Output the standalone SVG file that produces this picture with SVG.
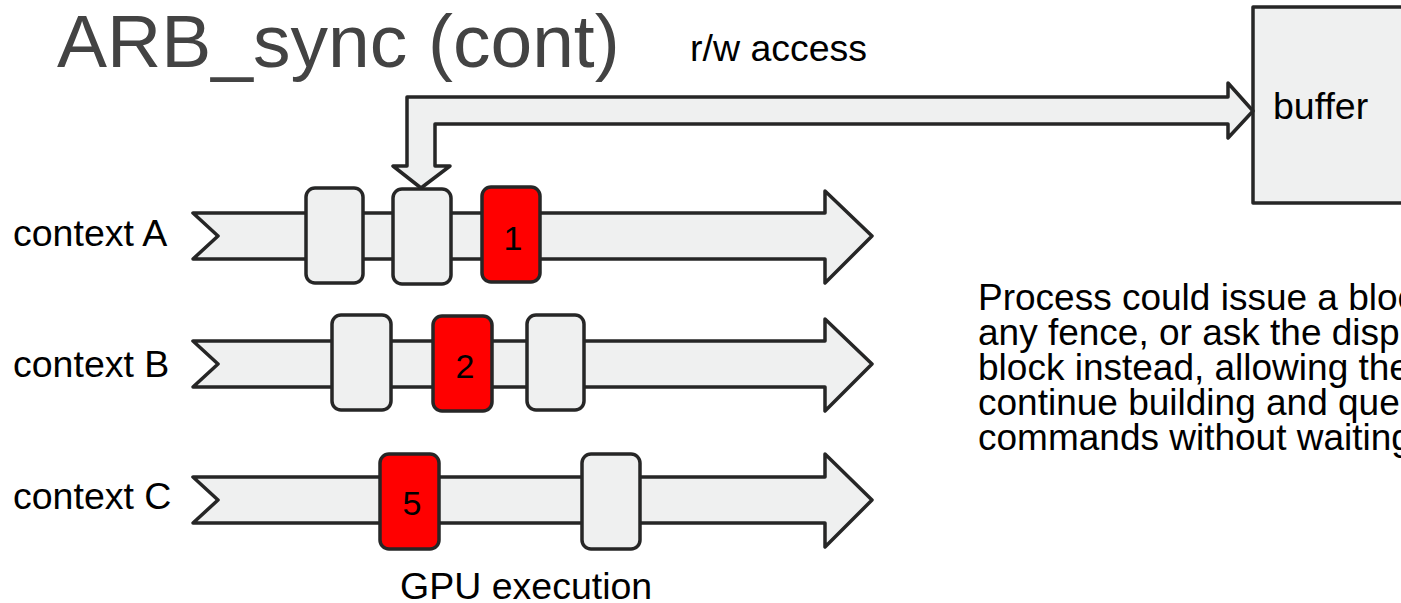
<svg xmlns="http://www.w3.org/2000/svg" width="1401" height="603" viewBox="0 0 1401 603">
  <style>
    .shape { fill: #eff0f0; stroke: #262626; stroke-width: 3.5; stroke-linejoin: round; }
    .fence { fill: #ff0000; stroke: #262626; stroke-width: 3.5; }
    .label { font-family: "Liberation Sans", Arial, sans-serif; font-size: 37.5px; fill: #000000; }
    .note { font-family: "Liberation Sans", Arial, sans-serif; font-size: 37px; fill: #000000; }
    .num { font-family: "Liberation Sans", Arial, sans-serif; font-size: 34px; fill: #000000; text-anchor: middle; }
    .title { font-family: "Liberation Sans", Arial, sans-serif; font-size: 75px; fill: #434343; }
  </style>

  <!-- heading -->
  <text class="title" x="57" y="67">ARB_sync (cont)</text>

  <!-- command streams of the three contexts -->
  <g id="context-a">
    <text class="label" x="13" y="246">context A</text>
    <polygon class="shape" points="193,213 825,213 825,191 872,236 825,283 825,259 193,259 218,236"/>
    <rect class="shape" x="306" y="188" width="57" height="95" rx="9"/>
    <rect class="shape" x="393" y="189" width="58" height="95" rx="9"/>
    <rect class="fence" x="482" y="187" width="58" height="95" rx="9"/>
    <text class="num" x="513" y="250">1</text>
  </g>

  <g id="context-b">
    <text class="label" x="13" y="377">context B</text>
    <polygon class="shape" points="193,341 825,341 825,319 872,364 825,411 825,387 193,387 218,364"/>
    <rect class="shape" x="332" y="315" width="59" height="95" rx="9"/>
    <rect class="fence" x="433" y="316" width="59" height="95" rx="9"/>
    <text class="num" x="465" y="378">2</text>
    <rect class="shape" x="527" y="315" width="57" height="95" rx="9"/>
  </g>

  <g id="context-c">
    <text class="label" x="13" y="509">context C</text>
    <polygon class="shape" points="193,477 825,477 825,454 872,500 825,547 825,523 193,523 218,500"/>
    <rect class="fence" x="380" y="454" width="59" height="95" rx="9"/>
    <text class="num" x="412" y="515">5</text>
    <rect class="shape" x="582" y="454" width="58" height="95" rx="9"/>
  </g>

  <g id="gpu-label">
    <text class="label" x="400" y="599">GPU execution</text>
  </g>

  <!-- shared buffer -->
  <g id="buffer">
    <rect class="shape" x="1253" y="7" width="200" height="196"/>
    <text class="label" x="1273" y="119">buffer</text>
  </g>

  <!-- read/write access between the buffer and context A -->
  <g id="connectors">
    <polygon class="shape" points="407,97 1228,97 1228,83 1253,111 1228,138 1228,124 435,124 435,166 450,166 421,188 393,166 407,166"/>
    <text class="label" x="690" y="61">r/w access</text>
  </g>

  <g id="note">
    <text class="note" x="978" y="310">Process could issue a bloc</text>
    <text class="note" x="978" y="345">any fence, or ask the disp</text>
    <text class="note" x="978" y="380">block instead, allowing the</text>
    <text class="note" x="978" y="415">continue building and que</text>
    <text class="note" x="978" y="450">commands without waiting</text>
  </g>
</svg>
